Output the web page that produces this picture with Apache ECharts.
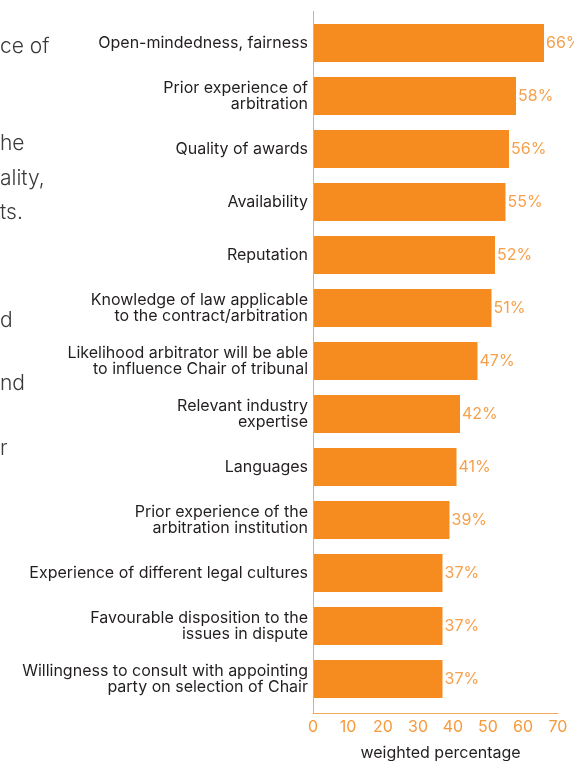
<!DOCTYPE html>
<html>
<head>
<meta charset="utf-8">
<script src="https://cdn.jsdelivr.net/npm/echarts@6/dist/echarts.min.js"></script>
<style>
  html, body { margin: 0; padding: 0; background: #ffffff; }
  #chart { width: 574px; height: 761px; }
</style>
</head>
<body>
<div id="chart"></div>
<script>
// Selection criteria, top to bottom
const categories = [
  'Open-mindedness, fairness',
  'Prior experience of\narbitration',
  'Quality of awards',
  'Availability',
  'Reputation',
  'Knowledge of law applicable\nto the contract/arbitration',
  'Likelihood arbitrator will be able\nto influence Chair of tribunal',
  'Relevant industry\nexpertise',
  'Languages',
  'Prior experience of the\narbitration institution',
  'Experience of different legal cultures',
  'Favourable disposition to the\nissues in dispute',
  'Willingness to consult with appointing\nparty on selection of Chair'
];

// Weighted percentage per criterion
const values = [66, 58, 56, 55, 52, 51, 47, 42, 41, 39, 37, 37, 37];

// Value axis ticks
const xMin = 0;
const xMax = 70;
const xStep = 10;

// Tail ends of the neighbouring body-text column
const sideText = ['ce of', 'he', 'ality,', 'ts.', 'd', 'nd', 'r'];
const sideTextY = [48, 145, 180, 214, 322, 385, 450];

const ORANGE = '#F68B1F';
const ORANGE_TEXT = '#F6A04C';
const DARK = '#231F20';
const FONT = 'Inter';

const chart = echarts.init(document.getElementById('chart'), null, { renderer: 'canvas' });

const graphics = sideText.map((t, i) => ({
  type: 'text',
  left: 0,
  top: sideTextY[i] - 12,
  style: {
    text: t,
    fill: '#3a3a3a',
    font: '300 21px ' + FONT
  }
}));

// Vertical axis rule, running a little past the bar area
graphics.push({
  type: 'line',
  shape: { x1: 313.5, y1: 11, x2: 313.5, y2: 713.5 },
  style: { stroke: '#F4A862', lineWidth: 1 },
  z: 10
});

chart.setOption({
  animation: false,
  textStyle: { fontFamily: FONT },
  grid: {
    left: 313, right: 16, top: 16.5, height: 689,
    containLabel: false,
    outerBoundsMode: 'none'
  },
  xAxis: {
    type: 'value',
    min: xMin,
    max: xMax,
    interval: xStep,
    offset: 8,
    axisLine: { show: true, lineStyle: { color: '#F4A862', width: 1 } },
    axisTick: { show: false },
    splitLine: { show: false },
    axisLabel: { color: '#F59A3C', fontSize: 16, margin: 6, fontFamily: FONT },
    name: 'weighted percentage',
    nameLocation: 'middle',
    nameGap: 32,
    nameTextStyle: { color: DARK, fontSize: 16, fontFamily: FONT, padding: [0, 0, 0, 10] }
  },
  yAxis: {
    type: 'category',
    data: categories,
    inverse: true,
    axisLine: { show: false },
    axisTick: { show: false },
    axisLabel: {
      color: DARK,
      fontSize: 16,
      lineHeight: 16,
      align: 'right',
      margin: 5,
      fontFamily: FONT
    }
  },
  series: [{
    type: 'bar',
    data: values,
    barCategoryGap: '28%',
    itemStyle: { color: ORANGE },
    label: {
      show: true,
      position: 'right',
      distance: 2,
      formatter: '{c}%',
      color: ORANGE_TEXT,
      fontSize: 16,
      fontFamily: FONT
    }
  }],
  graphic: graphics
});
</script>
</body>
</html>
